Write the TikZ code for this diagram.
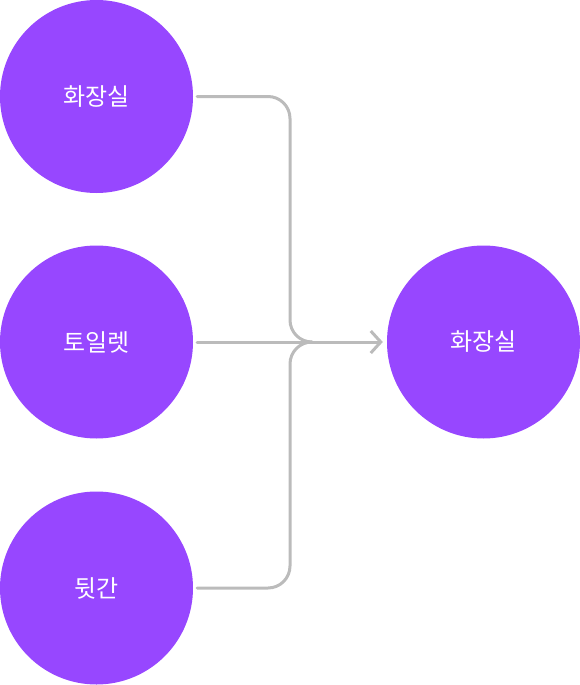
\documentclass[tikz,border=0pt]{standalone}
\usepackage{fontspec}
\setmainfont{Noto Sans CJK KR}
\usetikzlibrary{arrows.meta}
\definecolor{nodepurple}{HTML}{9747FF}
\definecolor{linegray}{HTML}{BBBBBB}
\begin{document}
\begin{tikzpicture}[x=1pt,y=-1pt,
  bubble/.style={circle,fill=nodepurple,minimum size=193pt,inner sep=0pt,text=white,font=\fontsize{24}{28}\selectfont},
  link/.style={draw=linegray,line width=3pt,line cap=round,rounded corners=22pt}]
\useasboundingbox (0,0) rectangle (580,685);
\node[bubble] (t1) at (96.5,96.5) {화장실};
\node[bubble] (t2) at (96.5,342) {토일렛};
\node[bubble] (t3) at (96.5,588) {뒷간};
\node[bubble] (r) at (483.5,342) {화장실};
\coordinate (m) at (290,342);
\coordinate (j) at (312,342);
\draw[link] ([xshift=4pt]t1.east) -| (m) -- (j);
\draw[link] ([xshift=4pt]t3.east) -| (m) -- (j);
\draw[link,-{Straight Barb[length=10pt,width=22pt]}] ([xshift=4pt]t2.east) -- ([xshift=-4pt]r.west);
\end{tikzpicture}
\end{document}
